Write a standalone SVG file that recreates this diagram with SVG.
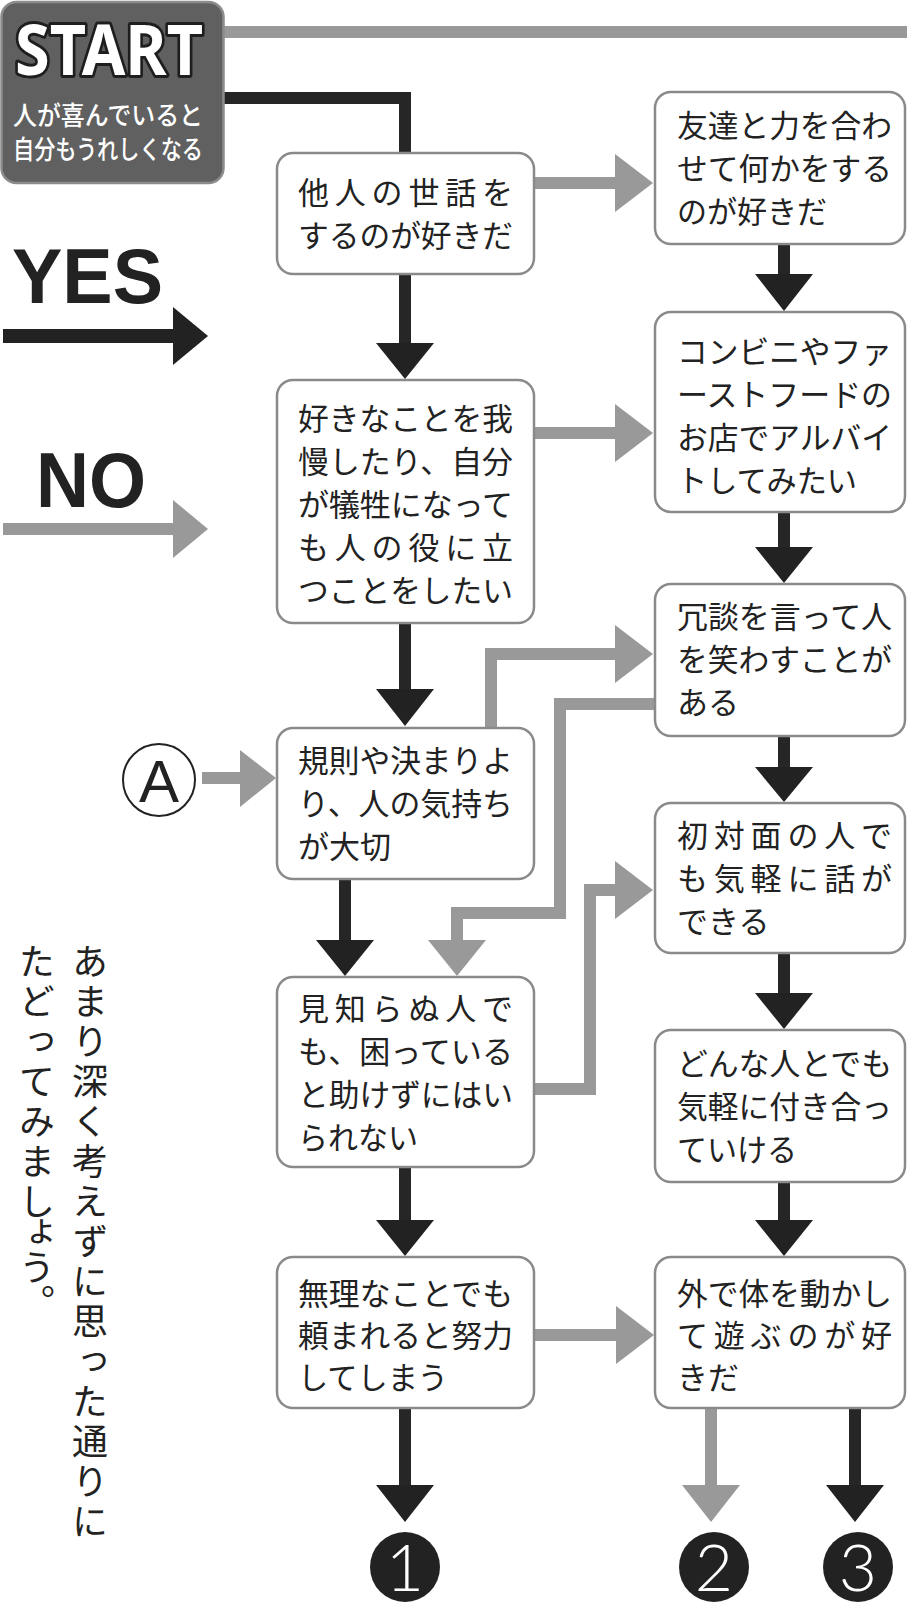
<svg xmlns="http://www.w3.org/2000/svg" width="907" height="1602" viewBox="0 0 907 1602">
<style>
.box{fill:#fff;stroke:#8a8a8a;stroke-width:2.5}
.t{font-family:"Noto Sans CJK JP","Noto Sans CJK SC",sans-serif;font-size:31px;fill:#222}
.k{stroke:#262626;stroke-width:12;fill:none}
.g{stroke:#999;stroke-width:12;fill:none}
.kh{fill:#222}
.gh{fill:#999}
.vt{font-family:"Noto Sans CJK JP",sans-serif;font-size:36px;fill:#222;writing-mode:vertical-rl;letter-spacing:4px}
.num{font-family:"Lato","Open Sans","Liberation Sans",sans-serif;font-weight:300;font-size:66px;fill:#fff;text-anchor:middle}
.st{font-family:"Noto Sans CJK JP",sans-serif;font-weight:500;font-size:26px;fill:#fff}
</style>
<rect width="907" height="1602" fill="#fff"/>
<g id="connectors">
  <path class="g" d="M224,32 H907"/>
  <path class="k" d="M224,98 H405 V343"/>
  <polygon class="kh" points="376,343 434,343 405,379"/>
  <path class="g" d="M534,183 H615"/>
  <polygon class="gh" points="615,154 615,212 653,183"/>
  <path class="k" d="M784,244 V275"/>
  <polygon class="kh" points="755,274 813,274 784,311"/>
  <path class="g" d="M534,433 H615"/>
  <polygon class="gh" points="615,404 615,462 653,433"/>
  <path class="k" d="M784,512 V548"/>
  <polygon class="kh" points="755,547 813,547 784,583"/>
  <path class="k" d="M405,623 V690"/>
  <polygon class="kh" points="376,689 434,689 405,726"/>
  <path class="g" d="M491,728 V654 H615"/>
  <polygon class="gh" points="615,625 615,683 653,654"/>
  <path class="g" d="M655,704 H560 V913 H457 V941"/>
  <polygon class="gh" points="428,940 486,940 457,976"/>
  <path class="k" d="M784,736 V768"/>
  <polygon class="kh" points="755,767 813,767 784,802"/>
  <path class="k" d="M345,879 V941"/>
  <polygon class="kh" points="316,940 374,940 345,976"/>
  <path class="g" d="M202,778 H241"/>
  <polygon class="gh" points="240,750 240,807 276,778"/>
  <path class="g" d="M534,1089 H590 V890 H615"/>
  <polygon class="gh" points="615,861 615,919 653,890"/>
  <path class="k" d="M784,953 V994"/>
  <polygon class="kh" points="755,993 813,993 784,1029"/>
  <path class="k" d="M405,1167 V1221"/>
  <polygon class="kh" points="376,1220 434,1220 405,1256"/>
  <path class="k" d="M784,1182 V1221"/>
  <polygon class="kh" points="755,1220 813,1220 784,1256"/>
  <path class="g" d="M534,1335 H616"/>
  <polygon class="gh" points="616,1306 616,1364 654,1335"/>
  <path class="k" d="M405,1408 V1486"/>
  <polygon class="kh" points="376,1485 434,1485 405,1522"/>
  <path class="g" d="M711,1408 V1486"/>
  <polygon class="gh" points="682,1485 740,1485 711,1522"/>
  <path class="k" d="M855,1408 V1486"/>
  <polygon class="kh" points="826,1485 884,1485 855,1522"/>
</g>
<g id="start">
  <rect x="1.5" y="2" width="222" height="181" rx="15" fill="#606060" stroke="#8c8c8c" stroke-width="2.5"/>
  <text x="15" y="75" textLength="188" lengthAdjust="spacingAndGlyphs" font-family="'Noto Sans','Liberation Sans',sans-serif" font-weight="bold" font-size="70" fill="#fff" stroke="#1e1e1e" stroke-width="6" stroke-linejoin="round" paint-order="stroke">START</text>
  <text class="st" x="13" y="125" textLength="190" lengthAdjust="spacingAndGlyphs">人が喜んでいると</text>
  <text class="st" x="13" y="159" textLength="190" lengthAdjust="spacingAndGlyphs">自分もうれしくなる</text>
</g>
<g id="legend-yes">
  <text x="12" y="303" textLength="151" lengthAdjust="spacingAndGlyphs" font-family="'Liberation Sans',sans-serif" font-weight="bold" font-size="78" fill="#222">YES</text>
  <path d="M3,336 H174" stroke="#222" stroke-width="14"/>
  <polygon class="kh" points="173,307 173,365 208,336"/>
</g>
<g id="legend-no">
  <text x="36" y="507" textLength="110" lengthAdjust="spacingAndGlyphs" font-family="'Liberation Sans',sans-serif" font-weight="bold" font-size="78" fill="#222">NO</text>
  <path class="g" d="M3,529 H174" stroke-width="13"/>
  <polygon class="gh" points="173,500 173,558 208,529"/>
</g>
<g id="n1">
  <rect class="box" x="277" y="153" width="257" height="121" rx="16"/>
  <text class="t" x="298" y="204" textLength="215" lengthAdjust="spacing">他人の世話を</text>
  <text class="t" x="298" y="247" textLength="215" lengthAdjust="spacingAndGlyphs">するのが好きだ</text>
</g>
<g id="n2">
  <rect class="box" x="277" y="380" width="257" height="243" rx="16"/>
  <text class="t" x="298" y="430" textLength="215" lengthAdjust="spacingAndGlyphs">好きなことを我</text>
  <text class="t" x="298" y="473" textLength="215" lengthAdjust="spacingAndGlyphs">慢したり、自分</text>
  <text class="t" x="298" y="516" textLength="215" lengthAdjust="spacingAndGlyphs">が犠牲になって</text>
  <text class="t" x="298" y="559" textLength="215" lengthAdjust="spacing">も人の役に立</text>
  <text class="t" x="298" y="602" textLength="215" lengthAdjust="spacingAndGlyphs">つことをしたい</text>
</g>
<g id="n3">
  <rect class="box" x="277" y="728" width="257" height="151" rx="16"/>
  <text class="t" x="298" y="772" textLength="215" lengthAdjust="spacingAndGlyphs">規則や決まりよ</text>
  <text class="t" x="298" y="815" textLength="215" lengthAdjust="spacingAndGlyphs">り、人の気持ち</text>
  <text class="t" x="298" y="858">が大切</text>
</g>
<g id="n4">
  <rect class="box" x="277" y="977" width="257" height="190" rx="16"/>
  <text class="t" x="298" y="1020" textLength="215" lengthAdjust="spacing">見知らぬ人で</text>
  <text class="t" x="298" y="1063" textLength="215" lengthAdjust="spacingAndGlyphs">も、困っている</text>
  <text class="t" x="298" y="1106" textLength="215" lengthAdjust="spacingAndGlyphs">と助けずにはい</text>
  <text class="t" x="298" y="1149" textLength="120" lengthAdjust="spacingAndGlyphs">られない</text>
</g>
<g id="n5">
  <rect class="box" x="277" y="1257" width="257" height="151" rx="16"/>
  <text class="t" x="298" y="1305" textLength="215" lengthAdjust="spacingAndGlyphs">無理なことでも</text>
  <text class="t" x="298" y="1347" textLength="215" lengthAdjust="spacingAndGlyphs">頼まれると努力</text>
  <text class="t" x="298" y="1389" textLength="150" lengthAdjust="spacingAndGlyphs">してしまう</text>
</g>
<g id="r1">
  <rect class="box" x="655" y="92" width="250" height="152" rx="16"/>
  <text class="t" x="677" y="137" textLength="215" lengthAdjust="spacingAndGlyphs">友達と力を合わ</text>
  <text class="t" x="677" y="180" textLength="215" lengthAdjust="spacingAndGlyphs">せて何かをする</text>
  <text class="t" x="677" y="223" textLength="150" lengthAdjust="spacingAndGlyphs">のが好きだ</text>
</g>
<g id="r2">
  <rect class="box" x="655" y="312" width="250" height="200" rx="16"/>
  <text class="t" x="677" y="363" textLength="215" lengthAdjust="spacingAndGlyphs">コンビニやファ</text>
  <text class="t" x="677" y="406" textLength="215" lengthAdjust="spacingAndGlyphs">ーストフードの</text>
  <text class="t" x="677" y="449" textLength="215" lengthAdjust="spacingAndGlyphs">お店でアルバイ</text>
  <text class="t" x="677" y="492" textLength="180" lengthAdjust="spacingAndGlyphs">トしてみたい</text>
</g>
<g id="r3">
  <rect class="box" x="655" y="584" width="250" height="152" rx="16"/>
  <text class="t" x="677" y="628" textLength="215" lengthAdjust="spacingAndGlyphs">冗談を言って人</text>
  <text class="t" x="677" y="671" textLength="215" lengthAdjust="spacingAndGlyphs">を笑わすことが</text>
  <text class="t" x="677" y="714">ある</text>
</g>
<g id="r4">
  <rect class="box" x="655" y="803" width="250" height="150" rx="16"/>
  <text class="t" x="677" y="847" textLength="215" lengthAdjust="spacing">初対面の人で</text>
  <text class="t" x="677" y="890" textLength="215" lengthAdjust="spacing">も気軽に話が</text>
  <text class="t" x="677" y="933">できる</text>
</g>
<g id="r5">
  <rect class="box" x="655" y="1030" width="250" height="152" rx="16"/>
  <text class="t" x="677" y="1075" textLength="215" lengthAdjust="spacingAndGlyphs">どんな人とでも</text>
  <text class="t" x="677" y="1118" textLength="215" lengthAdjust="spacingAndGlyphs">気軽に付き合っ</text>
  <text class="t" x="677" y="1161" textLength="120" lengthAdjust="spacingAndGlyphs">ていける</text>
</g>
<g id="r6">
  <rect class="box" x="655" y="1257" width="250" height="151" rx="16"/>
  <text class="t" x="677" y="1305" textLength="215" lengthAdjust="spacingAndGlyphs">外で体を動かし</text>
  <text class="t" x="677" y="1347" textLength="215" lengthAdjust="spacing">て遊ぶのが好</text>
  <text class="t" x="677" y="1389">きだ</text>
</g>
<g id="a-mark">
  <circle cx="159" cy="780" r="36" fill="#fff" stroke="#222" stroke-width="2"/>
  <text x="159" y="802" text-anchor="middle" font-family="'Liberation Sans',sans-serif" font-size="60" fill="#222">A</text>
</g>
<g id="note">
  <text class="vt" x="90" y="943">あまり深く考えずに思った通りに</text>
  <text class="vt" x="37" y="943">たどってみまし</text>
  <text class="vt" x="37" y="1214" style="letter-spacing:-1px">ょう。</text>
</g>
<g id="end1">
  <circle cx="405" cy="1567" r="35" fill="#222"/>
  <text class="num" x="405" y="1591">1</text>
</g>
<g id="end2">
  <circle cx="714" cy="1567" r="35" fill="#222"/>
  <text class="num" x="714" y="1591">2</text>
</g>
<g id="end3">
  <circle cx="858" cy="1567" r="35" fill="#222"/>
  <text class="num" x="858" y="1591">3</text>
</g>
</svg>
